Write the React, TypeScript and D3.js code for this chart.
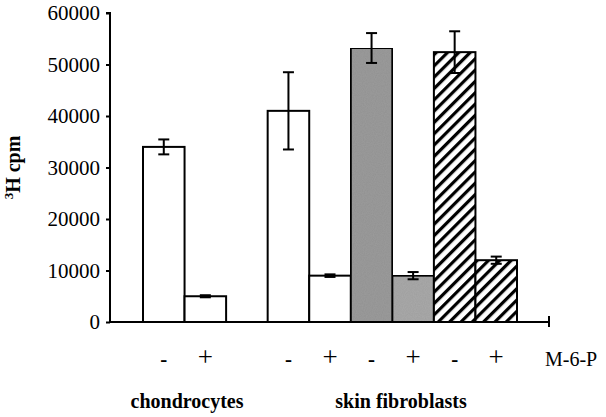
import React, { useEffect, useRef } from 'react';
import * as d3 from 'd3';

const width = 606;
const height = 417;
const margin = { top: 13, left: 110, bottom: 95, right: 57 };

// bar slots, "gap" is the empty slot between the two cell types
const slots = ['c-', 'c+', 'gap', 'f1-', 'f1+', 'f2-', 'f2+', 'f3-', 'f3+'];
const bars = ['c-', 'c+', 'f1-', 'f1+', 'f2-', 'f2+', 'f3-', 'f3+'];
const values = [34000, 5000, 41000, 9000, 53200, 9000, 52400, 12000];
const errors = [1450, 200, 7500, 250, 2900, 700, 4050, 700];
const fills = ['white', 'white', 'white', 'white', 'gray1', 'gray2', 'hatch', 'hatch'];
const signs = ['-', '+', '-', '+', '-', '+', '-', '+'];
const yTicks = [0, 10000, 20000, 30000, 40000, 50000, 60000];

const fillFor: Record<string, string> = {
  white: '#ffffff',
  gray1: '#9b9b9b',
  gray2: '#a9a9a9',
  hatch: 'url(#hatch)',
};

const font = '"Liberation Serif", "Times New Roman", serif';

export default function App() {
  const yAxisRef = useRef<SVGGElement>(null);

  const y = d3.scaleLinear().domain([0, 60000]).range([height - margin.bottom, margin.top]);
  const x = d3.scaleBand().domain(slots).range([143, 517]).paddingInner(0).paddingOuter(0);
  const y0 = y(0);

  useEffect(() => {
    const axis = d3.axisLeft(y).tickValues(yTicks).tickSize(4).tickPadding(6).tickFormat(d => `${d}`);
    const g = d3.select(yAxisRef.current!);
    g.call(axis as any);
    g.attr('font-family', null).attr('font-size', null);
    g.select('.domain').attr('stroke-width', 2).attr('d', `M-4,${y(60000)}H0V${y0}`);
    g.selectAll('.tick line').attr('stroke-width', 2);
    g.selectAll('.tick text')
      .style('font-family', font)
      .style('font-size', '21px')
      .attr('fill', '#000');
  }, []);

  return (
    <svg width={width} height={height} style={{ position: 'absolute', left: 0, top: 0, background: '#fff' }}>
      <defs>
        <pattern id="hatch" patternUnits="userSpaceOnUse" width="8" height="8" patternTransform="rotate(45)">
          <rect width="8" height="8" fill="#fff" />
          <rect x="0" y="0" width="3.2" height="8" fill="#000" />
        </pattern>
        <filter id="noise" x="0" y="0" width="100%" height="100%">
          <feTurbulence type="fractalNoise" baseFrequency="0.9" numOctaves="1" result="n" />
          <feColorMatrix type="saturate" values="0" in="n" result="g" />
          <feComponentTransfer in="g" result="g2">
            <feFuncA type="linear" slope="0.25" />
          </feComponentTransfer>
          <feComposite in="g2" in2="SourceGraphic" operator="in" result="ng" />
          <feBlend in="SourceGraphic" in2="ng" mode="multiply" />
        </filter>
      </defs>

      {bars.map((b, i) => (
        <rect
          key={b}
          x={x(b)!}
          y={y(values[i])}
          width={x.bandwidth()}
          height={y0 - y(values[i])}
          fill={fillFor[fills[i]]}
          stroke="#000"
          strokeWidth={2}
          filter={fills[i].startsWith('gray') ? 'url(#noise)' : undefined}
        />
      ))}

      {bars.map((b, i) => {
        const cx = x(b)! + x.bandwidth() / 2;
        const hi = y(values[i] + errors[i]);
        const lo = y(values[i] - errors[i]);
        return (
          <g key={'e' + b} stroke="#000" strokeWidth={2}>
            <line x1={cx} x2={cx} y1={hi} y2={lo} />
            <line x1={cx - 5.5} x2={cx + 5.5} y1={hi} y2={hi} />
            <line x1={cx - 5.5} x2={cx + 5.5} y1={lo} y2={lo} />
          </g>
        );
      })}

      <g ref={yAxisRef} transform={`translate(${margin.left},0)`} />
      <line x1={margin.left} x2={549} y1={y0} y2={y0} stroke="#000" strokeWidth={2} />
      <line x1={549} x2={549} y1={y0 - 6} y2={y0 + 5} stroke="#000" strokeWidth={2} />

      {bars.map((b, i) => (
        <text
          key={'s' + b}
          x={x(b)! + x.bandwidth() / 2}
          y={366}
          textAnchor="middle"
          fontFamily={font}
          fontSize={signs[i] === '+' ? 27 : 21}
          fontWeight={signs[i] === '-' ? 'bold' : 'normal'}
          fill="#000"
        >
          {signs[i]}
        </text>
      ))}
      <text x={545} y={366} fontFamily={font} fontSize={20} fill="#000">M-6-P</text>

      <text x={187} y={408} textAnchor="middle" fontFamily={font} fontSize={20} fontWeight="bold" fill="#000">chondrocytes</text>
      <text x={401} y={408} textAnchor="middle" fontFamily={font} fontSize={20} fontWeight="bold" fill="#000">skin fibroblasts</text>

      <text
        transform={`translate(20,${(y0 + y(60000)) / 2}) rotate(-90)`}
        textAnchor="middle"
        fontFamily={font}
        fontSize={20}
        fontWeight="bold"
        fill="#000"
      >
        <tspan fontSize={13} dy={-7}>3</tspan>
        <tspan dy={7}>H cpm</tspan>
      </text>
    </svg>
  );
}
